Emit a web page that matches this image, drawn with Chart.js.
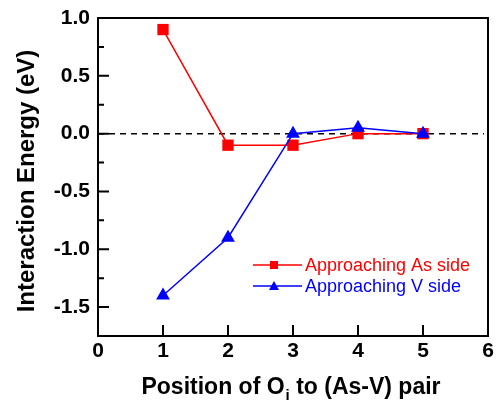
<!DOCTYPE html>
<html><head><meta charset="utf-8">
<script src="https://cdn.jsdelivr.net/npm/chart.js@4.4.0/dist/chart.umd.min.js"></script>
<style>html,body{margin:0;padding:0;background:#fff}#wrap{width:496px;height:407px}</style>
</head><body><div id="wrap"><canvas id="c" width="496" height="407"></canvas></div>
<script>
const positions = [1, 2, 3, 4, 5];
const asSide = [0.9, -0.1, -0.1, 0.0, 0.0];
const vSide = [-1.4, -0.9, 0.0, 0.05, 0.0];
const yTickValues = [-1.5, -1.0, -0.5, 0.0, 0.5, 1.0];
const yMinorValues = [-1.75, -1.25, -0.75, -0.25, 0.25, 0.75];
const xTickValues = [0, 1, 2, 3, 4, 5, 6];
const seriesNames = ['Approaching As side', 'Approaching V side'];
const RED = '#ff0000', BLUE = '#0000ff';

const FONT = '"Liberation Sans", Arial, sans-serif';

const deco = {
  id: 'deco',
  beforeDatasetsDraw(chart) {
    const {ctx, chartArea: a, scales: {x, y}} = chart;
    ctx.save();
    ctx.strokeStyle = '#000'; ctx.lineWidth = 1.5; ctx.setLineDash([6, 5]);
    const y0 = y.getPixelForValue(0);
    ctx.beginPath(); ctx.moveTo(a.left, y0); ctx.lineTo(a.right - 4, y0); ctx.stroke();
    ctx.restore();
  },
  afterDraw(chart) {
    const {ctx, chartArea: a, scales: {x, y}} = chart;
    ctx.save();
    ctx.strokeStyle = '#000'; ctx.lineWidth = 2; ctx.setLineDash([]);
    ctx.strokeRect(a.left, a.top, a.right - a.left, a.bottom - a.top);
    ctx.beginPath();
    yTickValues.forEach(v => { const p = y.getPixelForValue(v); ctx.moveTo(a.left, p); ctx.lineTo(a.left + 11, p); });
    yMinorValues.forEach(v => { const p = y.getPixelForValue(v); ctx.moveTo(a.left, p); ctx.lineTo(a.left + 6, p); });
    xTickValues.slice(1, -1).forEach(v => { const p = x.getPixelForValue(v); ctx.moveTo(p, a.bottom); ctx.lineTo(p, a.bottom - 11); });
    ctx.stroke();

    // axis titles
    ctx.fillStyle = '#000';
    const main = 'bold 23px ' + FONT, sub = 'bold 15px ' + FONT;
    ctx.textBaseline = 'alphabetic';
    const parts = ['Position of O', 'i', ' to (As-V) pair'];
    ctx.font = main;
    const w0 = ctx.measureText(parts[0]).width;
    const w2 = ctx.measureText(parts[2]).width;
    ctx.font = sub; const w1 = ctx.measureText(parts[1]).width;
    const total = w0 + w1 + 1 + w2;
    let sx = 291 - total / 2;
    const by = 394;
    ctx.textAlign = 'left';
    ctx.font = main; ctx.fillText(parts[0], sx, by); sx += w0;
    ctx.font = sub; ctx.fillText(parts[1], sx + 1, by + 6); sx += w1 + 1;
    ctx.font = main; ctx.fillText(parts[2], sx, by);

    ctx.save();
    ctx.translate(27, 181);
    ctx.rotate(-Math.PI / 2);
    ctx.textAlign = 'center'; ctx.textBaseline = 'middle';
    ctx.font = 'bold 24px ' + FONT;
    ctx.fillText('Interaction Energy (eV)', 0, 0);
    ctx.restore();

    // legend
    const rows = [[seriesNames[0], RED, 'rect', 265], [seriesNames[1], BLUE, 'triangle', 286]];
    ctx.font = '18px ' + FONT; ctx.textAlign = 'left'; ctx.textBaseline = 'middle';
    rows.forEach(([label, col, shape, ry]) => {
      ctx.strokeStyle = col; ctx.fillStyle = col; ctx.lineWidth = 1.5;
      ctx.beginPath(); ctx.moveTo(253, ry); ctx.lineTo(302, ry); ctx.stroke();
      ctx.beginPath();
      if (shape === 'rect') { ctx.rect(270, ry - 4, 8, 8); }
      else { ctx.moveTo(274, ry - 5); ctx.lineTo(279, ry + 4); ctx.lineTo(269, ry + 4); ctx.closePath(); }
      ctx.fill();
      ctx.fillText(label, 305, ry + 1);
    });
    ctx.restore();
  }
};

new Chart(document.getElementById('c'), {
  type: 'line',
  data: {
    labels: positions,
    datasets: [
      { label: seriesNames[0], data: positions.map((p, i) => ({x: p, y: asSide[i]})),
        borderColor: RED, backgroundColor: RED, borderWidth: 1.5, pointStyle: 'rect',
        pointRadius: 8, pointHoverRadius: 8, pointBorderWidth: 0, order: 2, tension: 0 },
      { label: seriesNames[1], data: positions.map((p, i) => ({x: p, y: vSide[i]})),
        borderColor: BLUE, backgroundColor: BLUE, borderWidth: 1.5, pointStyle: 'triangle',
        pointRadius: 8, pointHoverRadius: 8, pointBorderWidth: 0, order: 1, tension: 0 }
    ]
  },
  options: {
    responsive: false, animation: false, devicePixelRatio: 1,
    layout: { padding: { left: 0, right: 7, top: 18, bottom: 0 } },
    plugins: { legend: { display: false }, tooltip: { enabled: false } },
    scales: {
      x: { type: 'linear', min: 0, max: 6,
        afterFit: s => { s.height = 71; s.paddingLeft = 0; s.paddingRight = 0; },
        afterBuildTicks: s => { s.ticks = xTickValues.map(v => ({value: v})); },
        grid: { display: false, drawTicks: false },
        border: { display: false },
        ticks: { padding: 3, color: '#000', font: { family: FONT, size: 21, weight: 'bold' }, maxRotation: 0,
          callback: v => String(v) } },
      y: { type: 'linear', min: -1.75, max: 1.0,
        afterFit: s => { s.width = 98; s.paddingTop = 0; s.paddingBottom = 0; },
        afterBuildTicks: s => { s.ticks = yTickValues.map(v => ({value: v})); },
        grid: { display: false, drawTicks: false },
        border: { display: false },
        ticks: { padding: 8, color: '#000', font: { family: FONT, size: 21, weight: 'bold' },
          callback: v => Number(v).toFixed(1) } }
    }
  },
  plugins: [deco]
});
</script></body></html>
